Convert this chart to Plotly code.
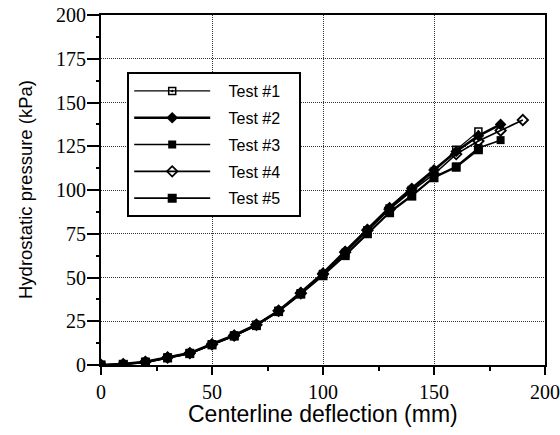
import plotly.graph_objects as go

# deflection (mm)
x1 = [0, 10, 20, 30, 40, 50, 60, 70, 80, 90, 100, 110, 120, 130, 140, 150, 160, 170]
y1 = [0, 0.5, 1.8, 4.3, 6.8, 11.8, 16.8, 23, 31, 41, 52, 64, 77, 89.5, 100, 110.5, 123, 133.5]

x2 = [0, 10, 20, 30, 40, 50, 60, 70, 80, 90, 100, 110, 120, 130, 140, 150, 160, 170, 180]
y2 = [0, 0.5, 1.8, 4.4, 6.8, 12, 17, 23, 31, 41.5, 52.5, 65, 77.5, 90, 101, 111.5, 122, 131, 137.5]

x3 = [0, 10, 20, 30, 40, 50, 60, 70, 80, 90, 100, 110, 120, 130, 140, 150, 160, 170, 180]
y3 = [0, 0.5, 1.6, 4.2, 6.6, 11.6, 16.6, 22.8, 30.6, 40.6, 51.5, 63, 75.5, 87.5, 97, 107.5, 113.5, 124, 128.5]

x4 = [0, 10, 20, 30, 40, 50, 60, 70, 80, 90, 100, 110, 120, 130, 140, 150, 160, 170, 180, 190]
y4 = [0, 0.5, 1.8, 4.3, 6.8, 11.8, 16.8, 23, 31, 41, 52, 64.5, 77, 89, 99.5, 109, 120.5, 128, 134, 140]

x5 = [0, 10, 20, 30, 40, 50, 60, 70, 80, 90, 100, 110, 120, 130, 140, 150, 160, 170]
y5 = [0, 0.4, 1.5, 4.0, 6.5, 11.5, 16.5, 22.5, 30.5, 40.5, 51, 62.5, 75, 87, 96.5, 107, 113, 123]

names = ["Test #1", "Test #2", "Test #3", "Test #4", "Test #5"]
x_ticks = [0, 50, 100, 150, 200]
y_ticks = [0, 25, 50, 75, 100, 125, 150, 175, 200]
x_minor = [25, 75, 125, 175]
y_minor = [12.5, 37.5, 62.5, 87.5, 112.5, 137.5, 162.5, 187.5]
x_title = "Centerline deflection (mm)"
y_title = "Hydrostatic pressure (kPa)"

series = [
    (x1, y1, dict(symbol="square-open-dot", size=7, line=dict(width=1.5, color="black"), color="black"), 1.2),
    (x2, y2, dict(symbol="diamond", size=9, color="black"), 2.6),
    (x3, y3, dict(symbol="square", size=8, color="black"), 1.6),
    (x4, y4, dict(symbol="diamond-open", size=8, line=dict(width=1.8, color="black"), color="black"), 1.6),
    (x5, y5, dict(symbol="square", size=9, color="black"), 1.6),
]

NB = "\u00a0"
fig = go.Figure()
for i, (xs, ys, mk, lw) in enumerate(series):
    fig.add_trace(go.Scatter(
        x=xs, y=ys, name=NB * 3 + names[i] + NB * 3, mode="lines+markers",
        line=dict(color="black", width=lw), marker=mk,
        legendgroup=f"g{i}",
    ))

SERIF = "Liberation Serif, Times New Roman, DejaVu Serif, serif"
SANS = "Liberation Sans"
tickfont = dict(family=SERIF, size=20, color="black")

xaxis = dict(
    showline=True, linecolor="black", linewidth=2, mirror=True,
    showgrid=True, gridcolor="#333", griddash="1px,1px", gridwidth=1,
    ticks="outside", tickwidth=1.5, tickcolor="black", ticklen=8,
    zeroline=False, automargin=False, showticklabels=False,
    range=[0, 200], tickmode="array", tickvals=x_ticks,
)
yaxis = dict(
    showline=True, linecolor="black", linewidth=2, mirror=True,
    showgrid=True, gridcolor="#333", griddash="1px,1px", gridwidth=1,
    ticks="outside", tickwidth=1.5, tickcolor="black", ticklen=12,
    zeroline=False, automargin=False, showticklabels=False,
    range=[0, 200], tickmode="array", tickvals=y_ticks,
)
# minor-tick axes overlaid on the main ones
xaxis2 = dict(
    overlaying="x", matches="x", side="bottom", showline=False, showgrid=False,
    zeroline=False, showticklabels=False, ticks="outside", ticklen=5, tickwidth=1.5,
    tickcolor="black", tickmode="array", tickvals=x_minor, automargin=False,
)
yaxis2 = dict(
    overlaying="y", matches="y", side="left", showline=False, showgrid=False,
    zeroline=False, showticklabels=False, ticks="outside", ticklen=4, tickwidth=1.5,
    tickcolor="black", tickmode="array", tickvals=y_minor, automargin=False,
)
fig.add_trace(go.Scatter(x=[None], y=[None], xaxis="x2", yaxis="y2", showlegend=False, hoverinfo="skip"))

annotations = []
for v in x_ticks:
    annotations.append(dict(x=v, xref="x", y=0, yref="paper", text=str(v), showarrow=False,
                            xanchor="center", yanchor="middle", yshift=-27, font=tickfont))
for v in y_ticks:
    annotations.append(dict(x=0, xref="paper", y=v, yref="y", text=str(v), showarrow=False,
                            xanchor="right", yanchor="middle", xshift=-13, font=tickfont))
annotations.append(dict(x=0.5, xref="paper", y=0, yref="paper", text=x_title, showarrow=False,
                        xanchor="center", yanchor="middle", yshift=-49,
                        font=dict(family=SANS, size=23, color="black")))
annotations.append(dict(x=0, xref="paper", y=0.5, yref="paper", text=y_title, showarrow=False,
                        textangle=-90, xanchor="center", yanchor="middle", xshift=-76,
                        font=dict(family=SANS, size=18.5, color="black")))

fig.update_layout(
    template="none",
    xaxis=xaxis, yaxis=yaxis, xaxis2=xaxis2, yaxis2=yaxis2,
    annotations=annotations,
    width=560, height=435, autosize=False,
    margin=dict(l=101, r=15, t=15, b=70),
    plot_bgcolor="white", paper_bgcolor="white",
    legend=dict(
        x=0.059, y=0.837, xanchor="left", yanchor="top",
        bgcolor="white", bordercolor="black", borderwidth=2,
        font=dict(family=SANS, size=16, color="black"),
        itemwidth=76, tracegroupgap=3, traceorder="grouped",
    ),
)

fig.write_html("out.html")
